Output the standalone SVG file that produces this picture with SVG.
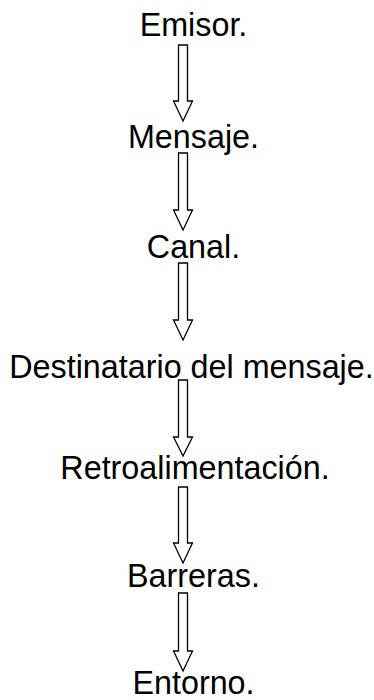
<svg xmlns="http://www.w3.org/2000/svg" width="374" height="700" viewBox="0 0 374 700">
<style>
.t{font-family:"Liberation Sans",Arial,sans-serif;font-size:32.3px;fill:#000;text-anchor:middle}
.a{fill:#fff;stroke:#000;stroke-width:1.3;stroke-linejoin:miter}
</style>
<rect width="374" height="700" fill="#fff"/>
<g id="connectors">
<path class="a" d="M178.5,45H187.5V101H192.5L183,121L173.5,101H178.5Z"/>
<path class="a" d="M178.5,153H187.5V210H192.5L183,230L173.5,210H178.5Z"/>
<path class="a" d="M178.5,263H187.5V320H192.5L183,340L173.5,320H178.5Z"/>
<path class="a" d="M178.5,380H187.5V437H192.5L183,456L173.5,437H178.5Z"/>
<path class="a" d="M178.5,487H187.5V543H192.5L183,563L173.5,543H178.5Z"/>
<path class="a" d="M178.5,593H187.5V651H192.5L183,671L173.5,651H178.5Z"/>
</g>
<g id="emisor"><text class="t" x="193.5" y="36">Emisor.</text></g>
<g id="mensaje"><text class="t" x="193.5" y="148">Mensaje.</text></g>
<g id="canal"><text class="t" x="193.5" y="258">Canal.</text></g>
<g id="destinatario"><text class="t" x="191.5" y="378">Destinatario del mensaje.</text></g>
<g id="retroalimentacion"><text class="t" x="195" y="479">Retroalimentación.</text></g>
<g id="barreras"><text class="t" x="193.5" y="587">Barreras.</text></g>
<g id="entorno"><text class="t" x="193.5" y="694">Entorno.</text></g>
</svg>
